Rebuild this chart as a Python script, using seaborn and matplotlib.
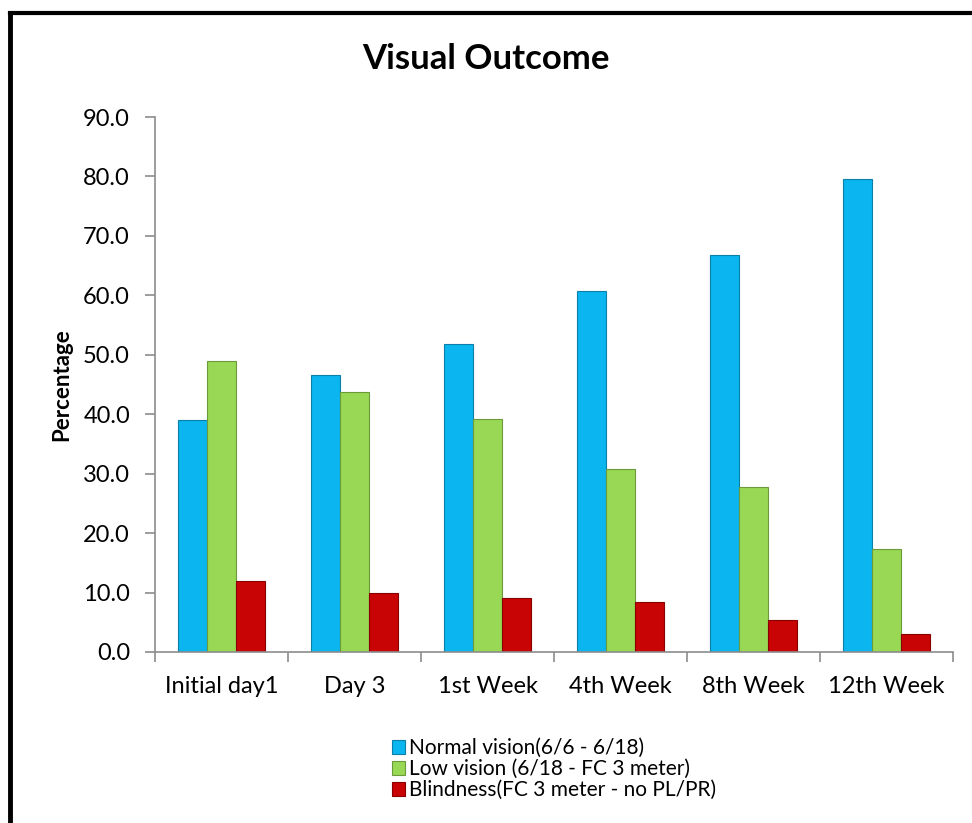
import matplotlib
matplotlib.use("Agg")
import matplotlib.pyplot as plt
import seaborn as sns
import pandas as pd
from matplotlib.patches import Patch
from matplotlib.lines import Line2D

categories = ["Initial day1", "Day 3", "1st Week", "4th Week", "8th Week", "12th Week"]
series_names = ["Normal vision(6/6 - 6/18)", "Low vision (6/18 - FC 3 meter)",
                "Blindness(FC 3 meter - no PL/PR)"]
normal = [39.0, 46.6, 51.8, 60.8, 66.8, 79.6]
low = [48.9, 43.7, 39.2, 30.8, 27.8, 17.3]
blind = [12.0, 9.9, 9.1, 8.4, 5.3, 3.0]
yticks = [0, 10, 20, 30, 40, 50, 60, 70, 80, 90]

colors = ["#0bb6f0", "#98d855", "#c80404"]
edges = ["#0a7fa8", "#6a9a3a", "#8a0000"]

rows = []
for name, vals in zip(series_names, [normal, low, blind]):
    for c, v in zip(categories, vals):
        rows.append({"cat": c, "series": name, "value": v})
df = pd.DataFrame(rows)

sns.set_theme(style="white")
plt.rcParams["font.family"] = ["Lato", "DejaVu Sans"]
plt.rcParams["text.color"] = "black"
plt.rcParams["axes.labelcolor"] = "black"
plt.rcParams["xtick.color"] = "black"
plt.rcParams["ytick.color"] = "black"

fig = plt.figure(figsize=(9.72, 8.23), dpi=100)
ax = fig.add_axes([155/972, 1-652/823, (953-155)/972, (652-117)/823])

sns.barplot(data=df, x="cat", y="value", hue="series", order=categories,
            hue_order=series_names, palette=colors, width=0.655, gap=0,
            ax=ax, legend=False, saturation=1)

for i, cont in enumerate(ax.containers):
    for bar in cont:
        bar.set_edgecolor(edges[i])
        bar.set_linewidth(0.8)

ax.set_xlim(-0.5, 5.5)
ax.set_ylim(0, 90)
ax.set_yticks(yticks)
ax.set_yticklabels([f"{t:.1f}" for t in yticks])
ax.set_xticks(range(len(categories)))
ax.set_xticklabels(categories)
ax.set_xticks([i + 0.5 for i in range(-1, len(categories))], minor=True)
ax.tick_params(axis="x", which="major", length=0, pad=17, labelsize=17, labelcolor="black")
ax.tick_params(axis="x", which="minor", length=7, width=1.2, color="#8c8c8c", bottom=True)
ax.tick_params(axis="y", length=7, width=1.2, color="#8c8c8c", pad=11, labelsize=17,
               left=True, labelcolor="black")
for s in ["top", "right"]:
    ax.spines[s].set_visible(False)
for s in ["left", "bottom"]:
    ax.spines[s].set_color("#8c8c8c")
    ax.spines[s].set_linewidth(1.2)
ax.set_xlabel("")
ax.set_ylabel("Percentage", fontsize=16, fontweight="bold", labelpad=8, color="black")

fig.text(0.5, 1-59/823, "Visual Outcome", ha="center", va="center",
         fontsize=25, fontweight="bold", color="black")

handles = [Patch(facecolor=c, edgecolor=e, linewidth=0.8) for c, e in zip(colors, edges)]
ax.legend(handles, series_names, loc="upper center", bbox_to_anchor=(0.5, -0.145),
          frameon=False, fontsize=15, handlelength=0.65, handleheight=0.65,
          handletextpad=0.2, labelspacing=0.05, borderaxespad=0)

# chart border (left and top visible, bottom cropped)
fig.add_artist(Line2D([10/972, 10/972], [0, 1-13/823], transform=fig.transFigure,
                      color="black", linewidth=3.5, solid_capstyle="projecting"))
fig.add_artist(Line2D([10/972, 1], [1-13/823, 1-13/823], transform=fig.transFigure,
                      color="black", linewidth=3.0, solid_capstyle="projecting"))

fig.savefig("out.png", dpi=100)
